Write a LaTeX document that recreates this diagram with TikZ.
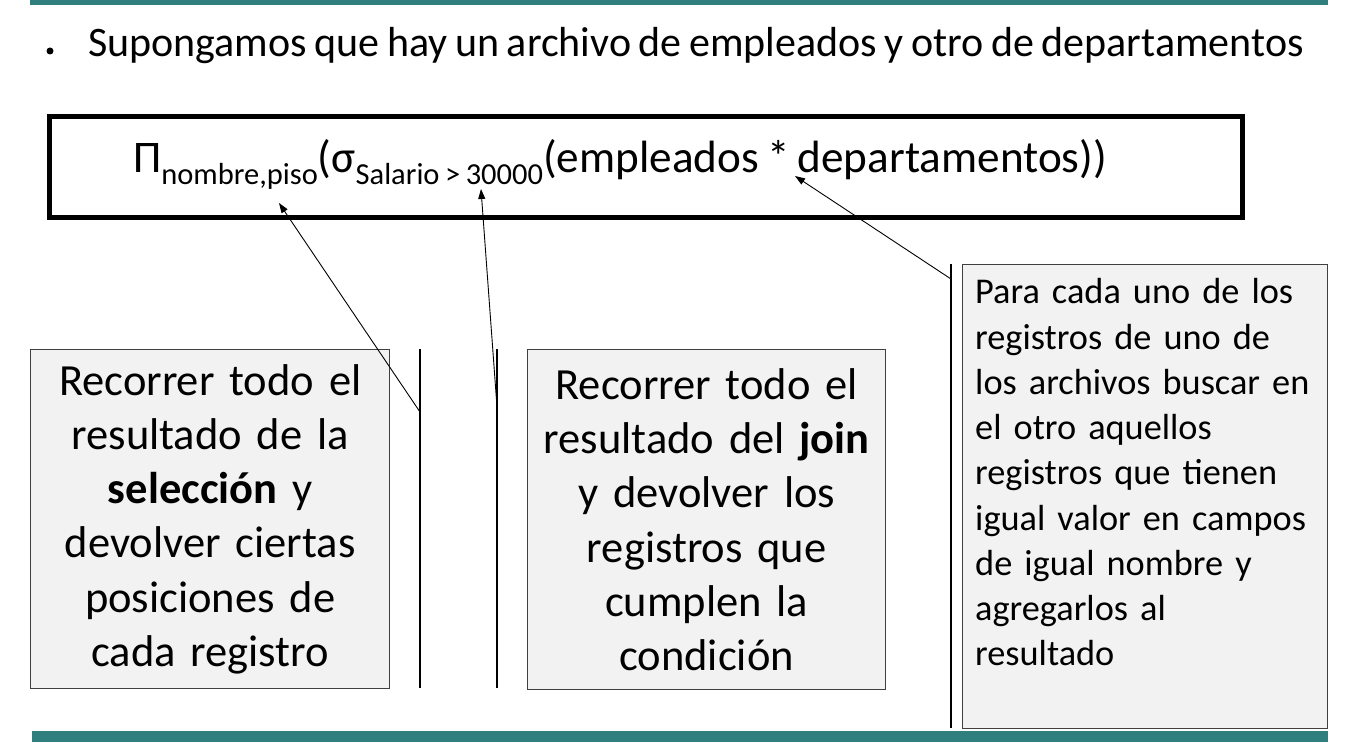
\documentclass[tikz,border=0pt]{standalone}
\usepackage{fontspec}
\setmainfont[WordSpace=0.8]{Carlito}
\usetikzlibrary{arrows.meta}
\definecolor{bandteal}{HTML}{2E7F7E}
\definecolor{boxfill}{HTML}{F2F2F2}
\definecolor{boxline}{HTML}{404040}
\begin{document}
\begin{tikzpicture}[x=1pt,y=-1pt,
  bandbar/.style={fill=bandteal, draw=none},
  notebox/.style={draw=boxline, line width=1.4pt, fill=boxfill, inner sep=0pt, anchor=north west},
  calloutbar/.style={draw=black, line width=1.6pt},
  leader/.style={draw=black, line width=0.9pt, -{Triangle[length=10pt,width=7pt]}},
  bigtext/.style={font=\fontsize{44.5}{54.2}\selectfont, align=center},
  smalltext/.style={font=\fontsize{36.3}{45.25}\selectfont, align=left, inner sep=0pt, anchor=north west, text width=355pt},
]
\useasboundingbox (0,0) rectangle (1350,743);
\path[bandbar] (30,0) rectangle (1328,5);
\path[bandbar] (32,731) rectangle (1328,742);

% heading
\node[circle, fill=black, inner sep=0pt, minimum size=7pt] (dot) at (50,51) {};
\node[anchor=base west, inner sep=0pt, font=\fontsize{42}{42}\selectfont] (heading) at (88,57)
  {Supongamos que hay un archivo de empleados y otro de departamentos};

% formula box
\node[draw=black, line width=5pt, minimum width=1193pt, minimum height=101pt, anchor=north west, inner sep=0pt] (formbox) at (47,114.5) {};
\node[anchor=base west, inner sep=0pt, font=\fontsize{45.2}{45.2}\selectfont] (formula) at (133,173)
  {Π\raisebox{-12pt}{\fontsize{30.5}{30.5}\selectfont nombre,piso}(σ\raisebox{-12pt}{\fontsize{30.5}{30.5}\selectfont Salario > 30000}(empleados * departamentos))};

% boxes
\node[notebox, bigtext, minimum width=359pt, minimum height=339pt, text width=359pt] (selbox) at (30,349)
  {Recorrer todo el\\ resultado de la\\ \textbf{selección} y\\ devolver ciertas\\ posiciones de\\ cada registro};
\node[notebox, bigtext, minimum width=358pt, minimum height=340pt, text width=358pt] (joinbox) at (527,349)
  {Recorrer todo el\\ resultado del \textbf{join}\\ y devolver los\\ registros que\\ cumplen la\\ condición};
\node[notebox, minimum width=365pt, minimum height=464pt] (natbox) at (962,264) {};
\node[smalltext] (nattext) at (975,278.5)
  {Para cada uno de los\\ registros de uno de\\ los archivos buscar en\\ el otro aquellos\\ registros que tienen\\ igual valor en campos\\ de igual nombre y\\ agregarlos al\\ resultado};

% callout bars
\coordinate (selbarTop) at (420,349);
\coordinate (selbarBot) at (420,688);
\coordinate (joinbarTop) at (497,349);
\coordinate (joinbarBot) at (497,688);
\coordinate (natbarTop) at (951,264);
\coordinate (natbarBot) at (951,728);
\draw[calloutbar] (selbarTop) -- (selbarBot);
\draw[calloutbar] (joinbarTop) -- (joinbarBot);
\draw[calloutbar] (natbarTop) -- (natbarBot);

% leaders
\coordinate (selAttach) at (420,412);
\coordinate (joinAttach) at (497,407);
\coordinate (natAttach) at (951,279);
\coordinate (selTip) at (279,203);
\coordinate (joinTip) at (481,189);
\coordinate (natTip) at (795,176);
\draw[leader] (selAttach) -- (selTip);
\draw[leader] (joinAttach) -- (joinTip);
\draw[leader] (natAttach) -- (natTip);
\end{tikzpicture}
\end{document}
